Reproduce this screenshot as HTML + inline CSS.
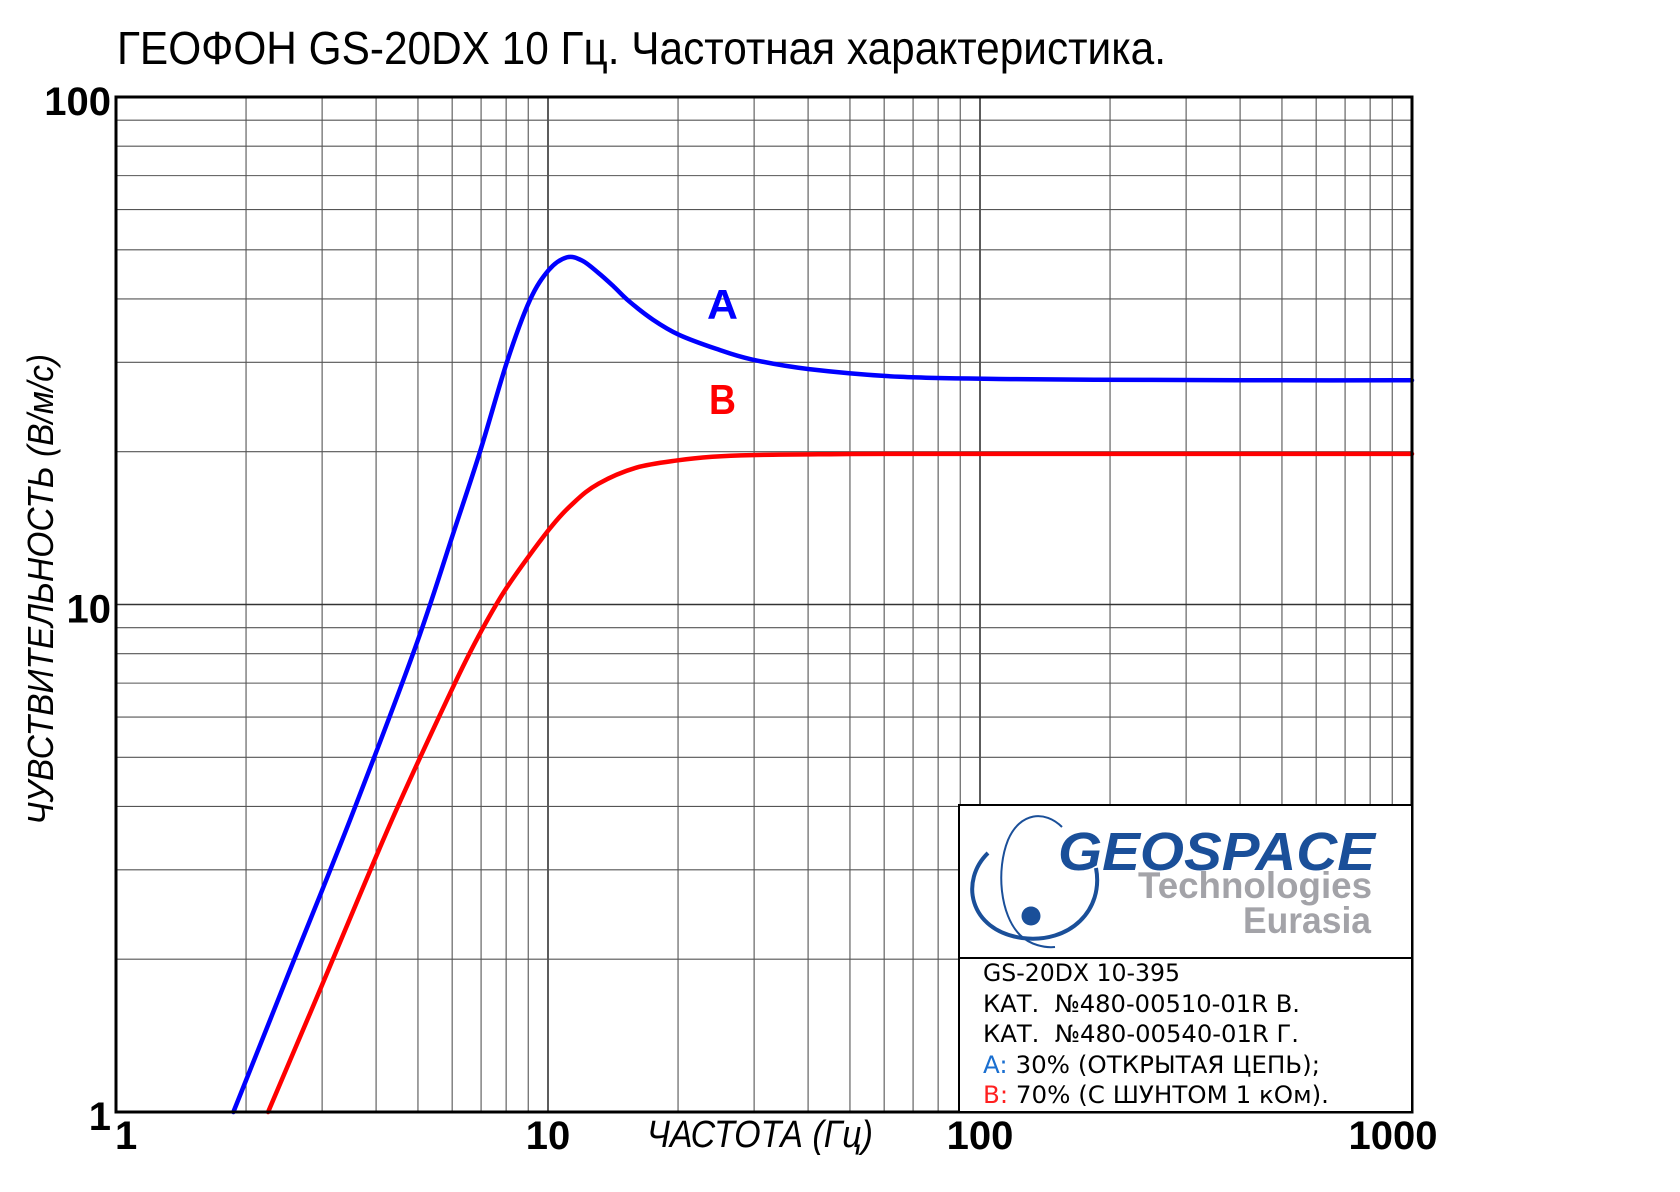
<!DOCTYPE html>
<html><head><meta charset="utf-8">
<style>
html,body{margin:0;padding:0;background:#fff;}
svg{display:block;}
</style></head>
<body>
<svg id="chart" width="1680" height="1192" viewBox="0 0 1680 1192" xmlns="http://www.w3.org/2000/svg">
  <rect x="0" y="0" width="1680" height="1192" fill="#fff"/>
  <text x="117" y="64" font-family="'Liberation Sans','DejaVu Sans',sans-serif" font-size="46" textLength="1049" lengthAdjust="spacingAndGlyphs" fill="#000">ГЕОФОН GS-20DX 10 Гц. Частотная характеристика.</text>
  <g id="grid"></g>
  <g id="series"></g>
  <rect x="116" y="97" width="1296" height="1015" fill="none" stroke="#000" stroke-width="3"/>
  <g id="yticks"></g>
  <g id="xticks"></g>
  <text x="647" y="1147" font-family="'Liberation Sans',sans-serif" font-style="italic" font-size="38" textLength="226" lengthAdjust="spacingAndGlyphs" fill="#000">ЧАСТОТА (Гц)</text>
  <text transform="translate(53,825) rotate(-90)" x="0" y="0" font-family="'Liberation Sans',sans-serif" font-style="italic" font-size="36" textLength="471" lengthAdjust="spacingAndGlyphs" fill="#000">ЧУВСТВИТЕЛЬНОСТЬ (В/м/с)</text>
  <text x="707" y="319" font-family="'Liberation Sans',sans-serif" font-weight="bold" font-size="42" textLength="31" lengthAdjust="spacingAndGlyphs" fill="#0000ff">A</text>
  <text x="709" y="414" font-family="'Liberation Sans',sans-serif" font-weight="bold" font-size="42" textLength="27" lengthAdjust="spacingAndGlyphs" fill="#ff0000">B</text>

  <g>
    <rect x="959" y="805" width="453" height="307" fill="#fff" stroke="#000" stroke-width="2"/>
    <line x1="959" y1="958" x2="1412" y2="958" stroke="#000" stroke-width="2"/>
    <g>
      <path d="M988,853 C960,880 968,930 1022,938 C1070,944 1104,910 1096,868" fill="none" stroke="#1a4f99" stroke-width="4"/>
      <path d="M1062,827 C1045,810 1020,812 1008,840 C996,870 1000,915 1020,935 C1030,945 1045,948 1055,947" fill="none" stroke="#1a4f99" stroke-width="2"/>
      <circle cx="1031" cy="916" r="9.5" fill="#1a4f99"/>
      <text x="1058" y="870" font-family="'Liberation Sans',sans-serif" font-weight="bold" font-style="italic" font-size="54" textLength="317" lengthAdjust="spacingAndGlyphs" fill="#1a4f99">GEOSPACE</text>
      <text x="1138" y="898" font-family="'Liberation Sans',sans-serif" font-weight="bold" font-size="37" textLength="234" lengthAdjust="spacingAndGlyphs" fill="#a3a3a8">Technologies</text>
      <text x="1243" y="933" font-family="'Liberation Sans',sans-serif" font-weight="bold" font-size="37" textLength="128" lengthAdjust="spacingAndGlyphs" fill="#a3a3a8">Eurasia</text>
    </g>
    <g font-family="'DejaVu Sans','Liberation Sans',sans-serif" font-size="24" fill="#000">
      <text x="983" y="981" textLength="197" lengthAdjust="spacingAndGlyphs">GS-20DX 10-395</text>
      <text x="983" y="1012" textLength="317" lengthAdjust="spacingAndGlyphs" xml:space="preserve">КАТ.  №480-00510-01R В.</text>
      <text x="983" y="1042" textLength="316" lengthAdjust="spacingAndGlyphs" xml:space="preserve">КАТ.  №480-00540-01R Г.</text>
      <text x="983" y="1073" textLength="337" lengthAdjust="spacingAndGlyphs"><tspan fill="#1a6fd0">A:</tspan> 30% (ОТКРЫТАЯ ЦЕПЬ);</text>
      <text x="983" y="1103" textLength="346" lengthAdjust="spacingAndGlyphs"><tspan fill="#ff2020">B:</tspan> 70% (С ШУНТОМ 1 кОм).</text>
    </g>
  </g>
</svg>
<script>
// ---- data ----
const xTickValues = [1, 10, 100, 1000];
const xTickLabels = ["1", "10", "100", "1000"];
const yTickValues = [1, 10, 100];
const yTickLabels = ["1", "10", "100"];
const seriesAFreq = [1.87, 2.5, 3.48, 4.92, 6.03, 6.96, 8.03, 9.07, 10.04, 11.05, 12.0, 13.09, 14.2, 15.4, 17.5, 20.1, 24.5, 29.6, 40.2, 65.3, 120, 250, 500, 1000];
const seriesAValue = [1, 1.86, 3.76, 8.19, 13.78, 20.0, 30.0, 39.7, 45.6, 48.3, 47.6, 45.0, 42.3, 39.6, 36.4, 34.0, 31.9, 30.4, 29.1, 28.1, 27.8, 27.7, 27.65, 27.65];
const seriesBFreq = [2.25, 3.0, 4.35, 6.03, 6.96, 8.03, 10.04, 11.5, 13.09, 16.0, 20.1, 24.0, 29.6, 45, 65.3, 200, 1000];
const seriesBValue = [1, 1.78, 3.76, 6.88, 8.77, 10.8, 14.03, 15.9, 17.3, 18.6, 19.25, 19.55, 19.7, 19.78, 19.8, 19.8, 19.8];

// ---- axes ----
const PL = 116, PR = 1412, PT = 97, PB = 1112;
const xMin = 1, xMax = 1000, yMin = 1, yMax = 100;
function xScale(f) { return PL + (Math.log10(f) - Math.log10(xMin)) / (Math.log10(xMax) - Math.log10(xMin)) * (PR - PL); }
function yScale(v) { return PB - (Math.log10(v) - Math.log10(yMin)) / (Math.log10(yMax) - Math.log10(yMin)) * (PB - PT); }

const NS = "http://www.w3.org/2000/svg";
const grid = document.getElementById("grid");
for (let d = 1; d < xMax; d *= 10) {
  for (let k = 1; k <= 9; k++) {
    const f = d * k; if (f <= xMin || f >= xMax) continue;
    const l = document.createElementNS(NS, "line");
    const x = xScale(f);
    l.setAttribute("x1", x); l.setAttribute("x2", x);
    l.setAttribute("y1", PT); l.setAttribute("y2", PB);
    l.setAttribute("stroke", k === 1 ? "#333" : "#555");
    l.setAttribute("stroke-width", k === 1 ? "1.6" : "1.1");
    
    
    grid.appendChild(l);
  }
}
for (let d = 1; d < yMax; d *= 10) {
  for (let k = 1; k <= 9; k++) {
    const v = d * k; if (v <= yMin || v >= yMax) continue;
    const l = document.createElementNS(NS, "line");
    const y = yScale(v);
    l.setAttribute("x1", PL); l.setAttribute("x2", PR);
    l.setAttribute("y1", y); l.setAttribute("y2", y);
    l.setAttribute("stroke", k === 1 ? "#333" : "#555");
    l.setAttribute("stroke-width", k === 1 ? "1.6" : "1.1");
    
    
    grid.appendChild(l);
  }
}

// tick labels
const xt = document.getElementById("xticks");
xTickValues.forEach((v, i) => {
  const t = document.createElementNS(NS, "text");
  let x = xScale(v), anchor = "middle";
  if (i === 0) { x = x - 1; anchor = "start"; }
  if (i === xTickValues.length - 1) { x = x - 19; }
  t.setAttribute("x", x); t.setAttribute("y", 1149);
  t.setAttribute("text-anchor", anchor);
  t.setAttribute("font-family", "'Liberation Sans',sans-serif");
  t.setAttribute("font-weight", "bold");
  t.setAttribute("font-size", "40");
  t.textContent = xTickLabels[i];
  
  
  xt.appendChild(t);
});
const yt = document.getElementById("yticks");
yTickValues.forEach((v, i) => {
  const t = document.createElementNS(NS, "text");
  t.setAttribute("x", 111); t.setAttribute("y", yScale(v) + 18);
  t.setAttribute("text-anchor", "end");
  t.setAttribute("font-family", "'Liberation Sans',sans-serif");
  t.setAttribute("font-weight", "bold");
  t.setAttribute("font-size", "40");
  t.textContent = yTickLabels[i];
  
  
  yt.appendChild(t);
});

// curves (Catmull-Rom through data points in pixel space)
function pathFrom(fs, vs) {
  const p = fs.map((f, i) => [xScale(f), yScale(vs[i])]);
  let d = "M" + p[0][0].toFixed(1) + "," + p[0][1].toFixed(1);
  for (let i = 0; i < p.length - 1; i++) {
    const p0 = p[Math.max(0, i - 1)], p1 = p[i], p2 = p[i + 1], p3 = p[Math.min(p.length - 1, i + 2)];
    const c1 = [p1[0] + (p2[0] - p0[0]) / 6, p1[1] + (p2[1] - p0[1]) / 6];
    const c2 = [p2[0] - (p3[0] - p1[0]) / 6, p2[1] - (p3[1] - p1[1]) / 6];
    d += " C" + c1[0].toFixed(1) + "," + c1[1].toFixed(1) + " " + c2[0].toFixed(1) + "," + c2[1].toFixed(1) + " " + p2[0].toFixed(1) + "," + p2[1].toFixed(1);
  }
  return d;
}
const sg = document.getElementById("series");
const pa = document.createElementNS(NS, "path");
pa.setAttribute("d", pathFrom(seriesAFreq, seriesAValue));
pa.setAttribute("fill", "none"); pa.setAttribute("stroke", "#0000ff"); pa.setAttribute("stroke-width", "4.5");
pa.setAttribute("stroke-linecap", "round");


sg.appendChild(pa);
const pb = document.createElementNS(NS, "path");
pb.setAttribute("d", pathFrom(seriesBFreq, seriesBValue));
pb.setAttribute("fill", "none"); pb.setAttribute("stroke", "#ff0000"); pb.setAttribute("stroke-width", "4.5");
pb.setAttribute("stroke-linecap", "round");


sg.appendChild(pb);
</script>
</body></html>
